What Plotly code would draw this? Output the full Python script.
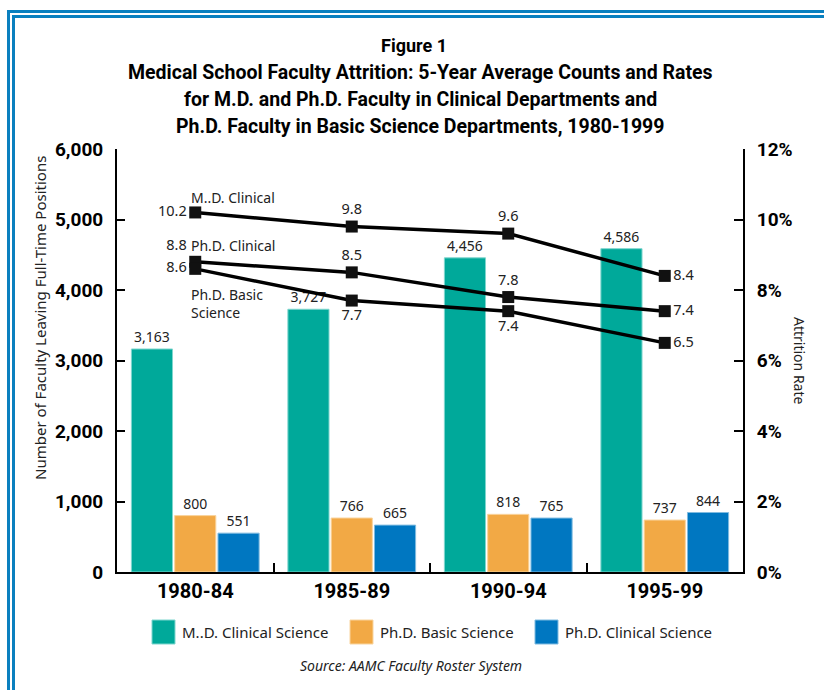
import plotly.graph_objects as go

categories = ["1980-84", "1985-89", "1990-94", "1995-99"]
md_clinical_counts = [3163, 3727, 4456, 4586]
phd_basic_counts = [800, 766, 818, 737]
phd_clinical_counts = [551, 665, 765, 844]

md_clinical_rate = [10.2, 9.8, 9.6, 8.4]
phd_clinical_rate = [8.8, 8.5, 7.8, 7.4]
phd_basic_rate = [8.6, 7.7, 7.4, 6.5]

bar_names = ["M..D. Clinical Science", "Ph.D. Basic Science", "Ph.D. Clinical Science"]
line_names = ["M..D. Clinical", "Ph.D. Clinical", "Ph.D. Basic<br>Science"]
colors = ["#00A99A", "#F2A945", "#0077C1"]
edge_colors = ["#7FD6CE", "#F9D49E", "#7FBBE0"]

W, H = 824, 690
L, R, T, B = 117, 743, 149, 572

def px(x):
    return (x - L) / (R - L)

def py(y):
    return (B - y) / (B - T)

BOLD = "Roboto, Liberation Sans, sans-serif"
LIGHT = "Noto Sans, Open Sans, sans-serif"

fig = go.Figure()

for vals, name, c, ec in zip([md_clinical_counts, phd_basic_counts, phd_clinical_counts], bar_names, colors, edge_colors):
    fig.add_trace(go.Bar(
        x=categories, y=vals, name=name, marker=dict(color=c, line=dict(color=ec, width=1)),
        text=[f"{v:,}" for v in vals], textposition="outside", cliponaxis=False,
        textfont=dict(family=LIGHT, size=14, color="#222222"), showlegend=False,
    ))

positions = [
    ["middle left", "top center", "top center", "middle right"],
    ["top left", "top center", "top center", "middle right"],
    ["middle left", "bottom center", "bottom center", "middle right"],
]
for vals, pos in zip([md_clinical_rate, phd_clinical_rate, phd_basic_rate], positions):
    fig.add_trace(go.Scatter(
        x=categories, y=vals, yaxis="y2", mode="lines+markers+text",
        line=dict(color="black", width=3.5),
        marker=dict(symbol="square", size=12, color="#111111"),
        text=[f"{v:.1f}" for v in vals], textposition=pos, cliponaxis=False,
        textfont=dict(family=LIGHT, size=14.5, color="#222222"), showlegend=False,
    ))

annotations = []
label_y = [10.62, 9.25, 7.62]
for name, yv in zip(line_names, label_y):
    annotations.append(dict(x=categories[0], y=yv, xref="x", yref="y2", text=name,
                            showarrow=False, xanchor="left", yanchor="middle", xshift=-6,
                            align="left", font=dict(family=LIGHT, size=14, color="#222222")))

def paper_note(x, y, text, font, **kw):
    d = dict(x=px(x), y=py(y), xref="paper", yref="paper", text=text, showarrow=False,
             xanchor="center", yanchor="middle", font=font)
    d.update(kw)
    annotations.append(d)

paper_note(414, 45, "Figure 1", dict(family=BOLD, size=18, color="black", weight="bold"))
title_lines = ["Medical School Faculty Attrition: 5-Year Average Counts and Rates",
               "for M.D. and Ph.D. Faculty in Clinical Departments and",
               "Ph.D. Faculty in Basic Science Departments, 1980-1999"]
for i, t in enumerate(title_lines):
    paper_note(420, 73 + 26.5 * i, t, dict(family=BOLD, size=19.5, color="black", weight="bold"))

paper_note(40, 318, "Number of Faculty Leaving Full-Time Positions",
           dict(family=LIGHT, size=15, color="#222222"), textangle=-90)
paper_note(800, 360, "Attrition Rate", dict(family=LIGHT, size=14, color="#222222"), textangle=90)
paper_note(411, 665, "<i>Source: AAMC Faculty Roster System</i>",
           dict(family=LIGHT, size=14, color="#222222"))

shapes = []
leg_x = [152, 350, 535]
for name, c, ec, lx in zip(bar_names, colors, edge_colors, leg_x):
    shapes.append(dict(type="rect", xref="paper", yref="paper", x0=px(lx), x1=px(lx + 23),
                       y0=py(644), y1=py(620), fillcolor=c, line=dict(color=ec, width=1)))
    annotations.append(dict(x=px(lx + 28), y=py(632), xref="paper", yref="paper", text=name,
                            showarrow=False, xanchor="left", yanchor="middle",
                            font=dict(family=LIGHT, size=15, color="#222222")))

blue = "#0A80BF"
shapes.append(dict(type="rect", xref="paper", yref="paper", x0=px(8.5), x1=px(840),
                   y0=py(11.5), y1=py(720), line=dict(color=blue, width=3), layer="below"))
shapes.append(dict(type="rect", xref="paper", yref="paper", x0=px(13.5), x1=px(840),
                   y0=py(16.5), y1=py(720), line=dict(color=blue, width=3), layer="below"))

tickfont = dict(family=BOLD, size=19, color="black", weight="bold")
fig.update_layout(
    width=W, height=H, margin=dict(l=L, r=W - R, t=T, b=H - B, pad=0),
    paper_bgcolor="white", plot_bgcolor="white",
    barmode="group", bargap=0.17, bargroupgap=0.05,
    annotations=annotations, shapes=shapes,
    xaxis=dict(type="category", showline=True, linecolor="black", linewidth=2,
               ticks="inside", tickson="boundaries", ticklen=9, tickwidth=2, tickcolor="black",
               tickfont=dict(family=BOLD, size=20, color="black", weight="bold"),
               showgrid=False, zeroline=False, ticklabelstandoff=0),
    yaxis=dict(range=[0, 6000], dtick=1000, tickformat=",", showline=True, linecolor="black",
               linewidth=2, ticks="inside", ticklen=8, tickwidth=2, tickcolor="black",
               tickfont=tickfont, showgrid=False, zeroline=False, ticklabelstandoff=8),
    yaxis2=dict(range=[0, 12], dtick=2, ticksuffix="%", overlaying="y", side="right",
                showline=True, linecolor="black", linewidth=2, ticks="inside", ticklen=9,
                tickwidth=2, tickcolor="black", tickfont=tickfont,
                showgrid=False, zeroline=False, ticklabelstandoff=8),
)

fig.write_html("out.html", config={"displayModeBar": False},
               post_script="document.body.style.margin='0';")
